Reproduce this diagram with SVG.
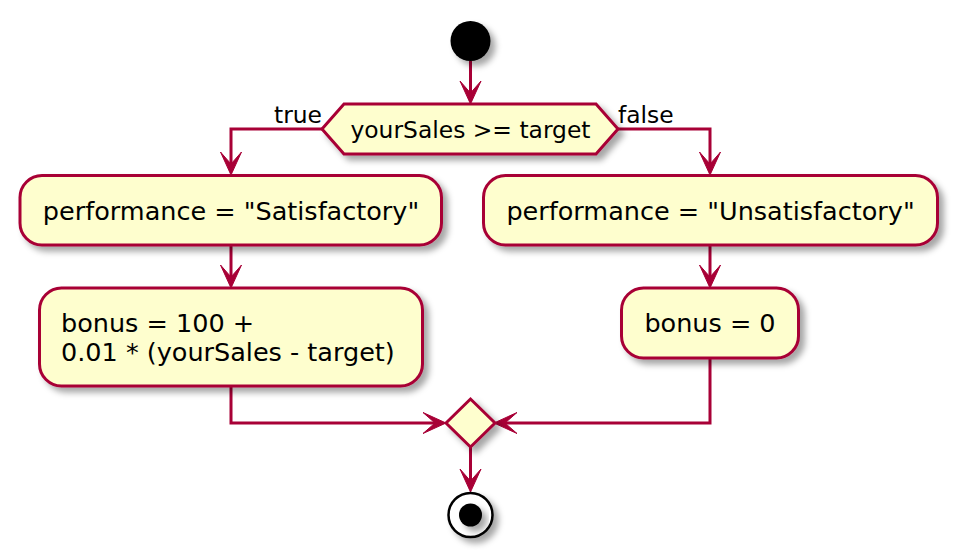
<svg xmlns="http://www.w3.org/2000/svg" width="958" height="558" viewBox="0 0 958 558">
  <style>
    .node { fill: #FEFECE; stroke: #A80036; stroke-width: 3; }
    .edge { fill: none; stroke: #A80036; stroke-width: 3; }
    .txt { font-family: "DejaVu Sans", "Noto Sans", sans-serif; font-size: 25.5px; fill: #000000; }
    .small { font-family: "DejaVu Sans", "Noto Sans", sans-serif; font-size: 23.4px; fill: #000000; }
  </style>
  <defs>
    <filter id="shadow" x="-20%" y="-20%" width="150%" height="160%">
      <feDropShadow dx="5" dy="5" stdDeviation="3.2" flood-color="#000000" flood-opacity="0.35"/>
    </filter>
    <marker id="arrow" markerUnits="userSpaceOnUse" markerWidth="40" markerHeight="40" viewBox="-20 -20 40 40" refX="0" refY="0" orient="auto" overflow="visible">
      <polygon points="8,0 -15,-10.5 -3,0 -15,10.5" fill="#A80036" stroke="#A80036" stroke-width="1" stroke-linejoin="miter"/>
    </marker>
  </defs>
  <rect width="958" height="558" fill="#FFFFFF"/>

  <g id="connectors">
    <path class="edge" d="M470.5,61 L470.5,96" marker-end="url(#arrow)"/>
    <path class="edge" d="M322,129 L231,129 L231,167" marker-end="url(#arrow)"/>
    <path class="edge" d="M618,129 L710,129 L710,167" marker-end="url(#arrow)"/>
    <path class="edge" d="M231,245 L231,280" marker-end="url(#arrow)"/>
    <path class="edge" d="M710,245 L710,280" marker-end="url(#arrow)"/>
    <path class="edge" d="M231,386 L231,423 L438,423" marker-end="url(#arrow)"/>
    <path class="edge" d="M710,358 L710,423 L502,423" marker-end="url(#arrow)"/>
    <path class="edge" d="M470.5,447 L470.5,484" marker-end="url(#arrow)"/>
    <text class="small" x="322" y="123" text-anchor="end">true</text>
    <text class="small" x="618" y="123">false</text>
  </g>

  <g id="start">
    <circle cx="470.5" cy="41" r="20" fill="#000000" filter="url(#shadow)"/>
  </g>

  <g id="decision">
    <polygon class="node" points="322,129 344,104 596,104 618,129 596,154 344,154" filter="url(#shadow)"/>
    <text class="small" x="470.5" y="137.5" text-anchor="middle">yourSales &gt;= target</text>
  </g>

  <g id="satisfactory">
    <rect class="node" x="20" y="175.5" width="421.5" height="69.5" rx="22" ry="22" filter="url(#shadow)"/>
    <text class="txt" x="231" y="219.5" text-anchor="middle">performance = "Satisfactory"</text>
  </g>

  <g id="bonus-formula">
    <rect class="node" x="39.5" y="288" width="383" height="98" rx="22" ry="22" filter="url(#shadow)"/>
    <text class="txt" x="61" y="332">bonus = 100 +</text>
    <text class="txt" x="61" y="361">0.01 * (yourSales - target)</text>
  </g>

  <g id="unsatisfactory">
    <rect class="node" x="483.5" y="175.5" width="454" height="69.5" rx="22" ry="22" filter="url(#shadow)"/>
    <text class="txt" x="710.5" y="219.5" text-anchor="middle">performance = "Unsatisfactory"</text>
  </g>

  <g id="bonus-zero">
    <rect class="node" x="621.5" y="288" width="177" height="70" rx="22" ry="22" filter="url(#shadow)"/>
    <text class="txt" x="710" y="332" text-anchor="middle">bonus = 0</text>
  </g>

  <g id="merge">
    <polygon class="node" points="446,423 470.5,399 495,423 470.5,447" filter="url(#shadow)"/>
  </g>

  <g id="end">
    <circle cx="470.5" cy="515" r="22" fill="#FFFFFF" stroke="#000000" stroke-width="2.5" filter="url(#shadow)"/>
    <circle cx="470.5" cy="515" r="11.5" fill="#000000" filter="url(#shadow)"/>
  </g>
</svg>
